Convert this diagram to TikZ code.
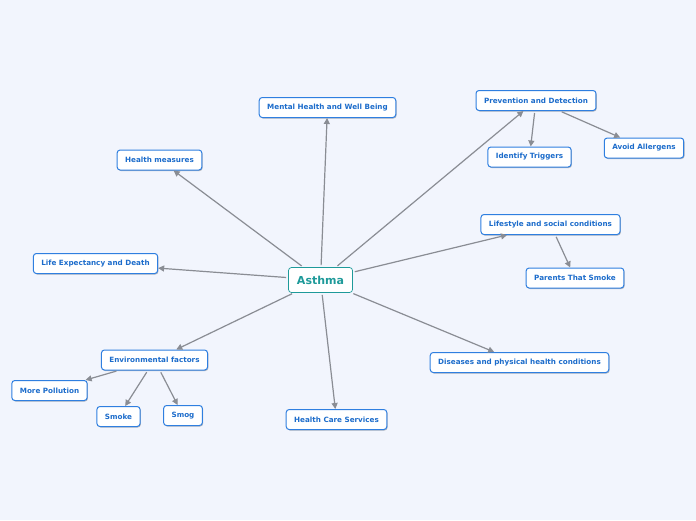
\documentclass[tikz,border=0pt]{standalone}
\usepackage{fontspec}
\setmainfont{DejaVu Sans}
\usetikzlibrary{arrows.meta,shadows}
\definecolor{bgcol}{HTML}{F2F5FD}
\definecolor{topicblue}{HTML}{2F7FE0}
\definecolor{topictext}{HTML}{1C6CCB}
\definecolor{rootteal}{HTML}{1E9A9A}
\definecolor{edgegray}{HTML}{8A8D94}
\tikzset{
  topic/.style={draw=topicblue, line width=1pt, fill=white, rounded corners=3pt,
    minimum height=20pt, inner xsep=8pt, font=\fontsize{7.2}{8}\selectfont\bfseries,
    text=topictext, drop shadow={shadow xshift=0.8pt, shadow yshift=-1pt, fill=black, opacity=0.25}},
  root/.style={draw=rootteal, line width=0.7pt, fill=white, rounded corners=3pt,
    minimum width=64pt, minimum height=25pt, font=\fontsize{11}{12}\selectfont\bfseries,
    text=rootteal},
  link/.style={draw=edgegray, line width=1.2pt, -{Triangle[width=6pt,length=6pt]}, shorten <=2pt}
}
\begin{document}
\begin{tikzpicture}[x=1pt,y=-1pt]
    % Hintergrund
    \fill[bgcol] (0,0) rectangle (696,520);
    \useasboundingbox (0,0) rectangle (696,520);
    % Zentrum
    \node[root] (asthma) at (320.5,280) {Asthma};
    % Hauptthemen
    \node[topic] (mental) at (327.5,107.5) {Mental Health and Well Being};
    \node[topic] (prev) at (536,100.5) {Prevention and Detection};
    \node[topic] (health) at (159.5,160) {Health measures};
    \node[topic] (life) at (550.5,224.5) {Lifestyle and social conditions};
    \node[topic] (death) at (95.5,263.5) {Life Expectancy and Death};
    \node[topic] (env) at (154.5,360) {Environmental factors};
    \node[topic] (care) at (336.5,419.5) {Health Care Services};
    \node[topic] (dis) at (519.5,362.5) {Diseases and physical health conditions};
    % Unterthemen
    \node[topic] (trig) at (529.5,157) {Identify Triggers};
    \node[topic] (aller) at (644,148) {Avoid Allergens};
    \node[topic] (parents) at (575,278) {Parents That Smoke};
    \node[topic] (poll) at (49.5,390.5) {More Pollution};
    \node[topic] (smoke) at (118.5,416.5) {Smoke};
    \node[topic] (smog) at (183,415.5) {Smog};
    % Verbindungen
    \foreach \t in {mental,prev,health,life,death,env,care,dis}
      \draw[link] (asthma) -- (\t);
    \draw[link] (prev) -- (trig);
    \draw[link] (prev) -- (aller);
    \draw[link] (life) -- (parents);
    \draw[link] (env) -- (poll);
    \draw[link] (env) -- (smoke);
    \draw[link] (env) -- (smog);
\end{tikzpicture}
\end{document}
